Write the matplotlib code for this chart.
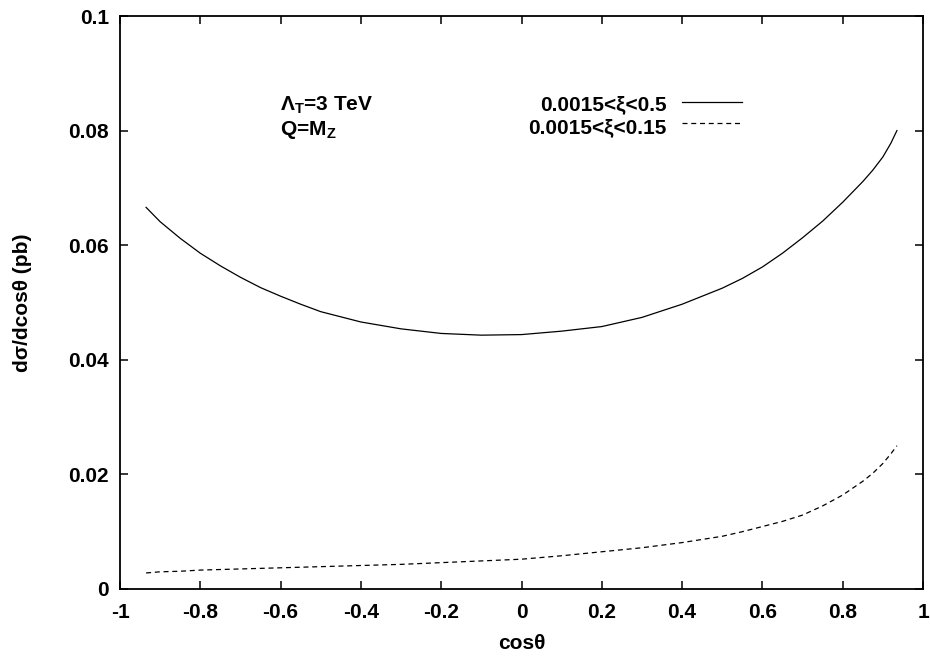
import matplotlib
matplotlib.use("Agg")
import matplotlib.pyplot as plt
from matplotlib.lines import Line2D

plt.rcParams['font.family'] = ['Liberation Sans', 'DejaVu Sans']
plt.rcParams['font.weight'] = 'bold'
plt.rcParams['mathtext.fontset'] = 'custom'
plt.rcParams['mathtext.rm'] = 'Liberation Sans:bold'
plt.rcParams['mathtext.it'] = 'Liberation Sans:bold'
plt.rcParams['mathtext.bf'] = 'Liberation Sans:bold'
plt.rcParams['mathtext.default'] = 'rm'

FS = 15

# ---- data ----
cos_theta = [-0.935, -0.9, -0.85, -0.8, -0.75, -0.7, -0.65, -0.6, -0.55, -0.5, -0.4, -0.3, -0.2,
             -0.1, 0.0, 0.1, 0.2, 0.3, 0.4, 0.5, 0.55, 0.6, 0.65, 0.7, 0.75, 0.8, 0.85, 0.875,
             0.9, 0.92, 0.935]
xs_wide = [0.0666, 0.0641, 0.0612, 0.0586, 0.0564, 0.0544, 0.0526, 0.0511, 0.0497, 0.0484, 0.0466,
           0.0454, 0.0446, 0.0443, 0.0444, 0.0450, 0.0458, 0.0474, 0.0497, 0.0525, 0.0542, 0.0562,
           0.0586, 0.0613, 0.0642, 0.0675, 0.0711, 0.0731, 0.0754, 0.0778, 0.0800]
xs_narrow = [0.0028, 0.0030, 0.0031, 0.0033, 0.0034, 0.0035, 0.0036, 0.0037, 0.0038, 0.0039, 0.0041,
             0.0043, 0.0046, 0.0049, 0.0052, 0.0058, 0.0065, 0.0072, 0.0081, 0.0092, 0.0100, 0.0109,
             0.0118, 0.0129, 0.0145, 0.0164, 0.0188, 0.0202, 0.0219, 0.0236, 0.0250]
label_wide = "0.0015<ξ<0.5"
label_narrow = "0.0015<ξ<0.15"
xticks = [-1, -0.8, -0.6, -0.4, -0.2, 0, 0.2, 0.4, 0.6, 0.8, 1]
xticklabels = ["-1", "-0.8", "-0.6", "-0.4", "-0.2", "0", "0.2", "0.4", "0.6", "0.8", "1"]
yticks = [0, 0.02, 0.04, 0.06, 0.08, 0.1]
yticklabels = ["0", "0.02", "0.04", "0.06", "0.08", "0.1"]

fig = plt.figure(figsize=(9.30, 6.57), dpi=100)
ax = fig.add_axes([120/930, 1-589/657, 803/930, 573/657])

ax.plot(cos_theta, xs_wide, color='black', lw=0.9, solid_joinstyle='round')
ax.plot(cos_theta, xs_narrow, color='black', lw=0.9, dashes=(4, 3))

ax.set_xlim(-1, 1)
ax.set_ylim(0, 0.1)
ax.set_xticks(xticks)
ax.set_xticklabels(xticklabels)
ax.set_yticks(yticks)
ax.set_yticklabels(yticklabels)
ax.tick_params(direction='in', length=5.5, width=1.1, top=True, right=True,
               labelsize=FS)
ax.tick_params(axis='x', pad=10)
ax.tick_params(axis='y', pad=8)
for s in ax.spines.values():
    s.set_linewidth(1.3)

ax.set_xlabel("cosθ", fontsize=FS, fontweight='bold', labelpad=9)
ax.set_ylabel("dσ/dcosθ (pb)", fontsize=FS, fontweight='bold', labelpad=26)

# annotations
ax.text(0.199, 0.834, r"$\Lambda_{T}$=3 TeV", transform=ax.transAxes, fontsize=FS,
        fontweight='bold', va='baseline', ha='left')
ax.text(0.199, 0.792, r"Q=M$_{Z}$", transform=ax.transAxes, fontsize=FS,
        fontweight='bold', va='baseline', ha='left')

# key
ax.text(0.681, 0.835, label_wide, transform=ax.transAxes, fontsize=FS,
        fontweight='bold', va='baseline', ha='right')
ax.text(0.681, 0.795, label_narrow, transform=ax.transAxes, fontsize=FS,
        fontweight='bold', va='baseline', ha='right')
ax.add_line(Line2D([0.700, 0.775], [0.850, 0.850], transform=ax.transAxes,
                   color='black', lw=0.9))
ax.add_line(Line2D([0.700, 0.775], [0.813, 0.813], transform=ax.transAxes,
                   color='black', lw=0.9, dashes=(4, 3)))

fig.savefig("out.png", dpi=100)
